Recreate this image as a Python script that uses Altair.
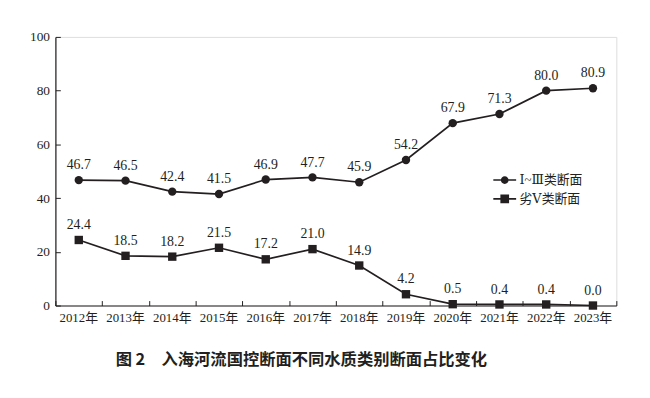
import altair as alt
import pandas as pd

years = ["2012年", "2013年", "2014年", "2015年", "2016年", "2017年",
         "2018年", "2019年", "2020年", "2021年", "2022年", "2023年"]
series_names = ["Ⅰ~Ⅲ类断面", "劣Ⅴ类断面"]
good_values = [46.7, 46.5, 42.4, 41.5, 46.9, 47.7, 45.9, 54.2, 67.9, 71.3, 80.0, 80.9]
bad_values = [24.4, 18.5, 18.2, 21.5, 17.2, 21.0, 14.9, 4.2, 0.5, 0.4, 0.4, 0.0]
title_text = "图 2　入海河流国控断面不同水质类别断面占比变化"

rows = []
for y, v in zip(years, good_values):
    rows.append({"year": y, "series": series_names[0], "value": v})
for y, v in zip(years, bad_values):
    rows.append({"year": y, "series": series_names[1], "value": v})
df = pd.DataFrame(rows)

INK = "#231f20"
SERIF = "Liberation Serif, DejaVu Serif, Noto Sans CJK SC"

xscale = alt.Scale(domain=years, paddingInner=0, paddingOuter=0)
yscale = alt.Scale(domain=[0, 100])

base = alt.Chart(df)

main_x_axis = alt.Axis(title=None, tickSize=0, labelPadding=6, labelFont=SERIF,
                       labelFontSize=13, labelColor=INK, domainColor=INK,
                       domainWidth=1.2, labelOverlap=False, labelAngle=0, grid=False)
main_y_axis = alt.Axis(title=None, values=[0, 20, 40, 60, 80, 100], tickSize=0,
                       labelPadding=6, labelFont=SERIF, labelFontSize=13.5,
                       labelColor=INK, domainColor=INK, domainWidth=1.2, grid=False)

line = base.mark_line(color=INK, strokeWidth=1.7).encode(
    x=alt.X("year:N", scale=xscale, axis=main_x_axis, sort=years),
    y=alt.Y("value:Q", scale=yscale, axis=main_y_axis),
    detail="series:N",
)

points = base.mark_point(filled=True, color=INK, size=72, opacity=1).encode(
    x=alt.X("year:N", scale=xscale, axis=None, sort=years),
    y=alt.Y("value:Q", scale=yscale, axis=None),
    shape=alt.Shape("series:N", scale=alt.Scale(domain=series_names, range=["circle", "square"]),
                    legend=None),
)

labels = base.mark_text(baseline="bottom", dy=-8, font=SERIF, fontSize=14, color=INK).encode(
    x=alt.X("year:N", scale=xscale, axis=None, sort=years),
    y=alt.Y("value:Q", scale=yscale, axis=None),
    text=alt.Text("value:Q", format=".1f"),
)

# legend glyphs: filled line stubs plus marker (unit box, scaled by the legend symbol size)
p_circle = ("M-1.05,-0.07H-0.35V0.07H-1.05Z"
            "M0.35,-0.07H1.05V0.07H0.35Z"
            "M-0.36,0a0.36,0.36 0 1,0 0.72,0a0.36,0.36 0 1,0 -0.72,0Z")
p_square = ("M-1.05,-0.07H-0.4V0.07H-1.05Z"
            "M0.4,-0.07H1.05V0.07H0.4Z"
            "M-0.4,-0.4H0.4V0.4H-0.4Z")

legend_layer = base.mark_point(filled=True, color=INK, opacity=0).encode(
    x=alt.X("year:N", scale=xscale, axis=None, sort=years),
    y=alt.Y("value:Q", scale=yscale, axis=None),
    shape=alt.Shape("series:N",
                    scale=alt.Scale(domain=series_names, range=[p_circle, p_square]),
                    legend=alt.Legend(title=None, orient="none", legendX=444, legendY=134,
                                      symbolSize=484, symbolStrokeWidth=0,
                                      symbolFillColor=INK,
                                      labelFont=SERIF, labelFontSize=13, labelColor=INK,
                                      labelOffset=4, rowPadding=1)),
)

tick_layer = base.mark_point(opacity=0).encode(
    x=alt.X("year:N", scale=xscale, sort=years,
            axis=alt.Axis(orient="bottom", offset=-5, tickSize=5, domain=False, labels=False,
                          tickBand="extent", grid=False, title=None, tickColor=INK,
                          tickWidth=1)),
    y=alt.Y("value:Q", scale=yscale,
            axis=alt.Axis(orient="left", offset=-5, tickSize=5, domain=False, labels=False,
                          values=[0, 20, 40, 60, 80, 100], grid=False, title=None,
                          tickColor=INK, tickWidth=1)),
)

chart = alt.layer(line, points, labels, legend_layer, tick_layer).resolve_scale(
    shape="independent"
).resolve_axis(
    x="independent", y="independent"
).properties(
    width=568,
    height=272,
    autosize=alt.AutoSizeParams(type="none"),
    padding={"left": 48, "top": 27, "right": 26, "bottom": 63},
    title=alt.TitleParams(title_text, orient="bottom", anchor="start", frame="group",
                          dx=61, offset=28, font="Noto Sans CJK SC", fontSize=16.5,
                          fontWeight="bold", color=INK),
).configure_view(stroke=None).configure(background="white")

chart.save("out.html", embed_options={"renderer": "svg", "actions": False})
